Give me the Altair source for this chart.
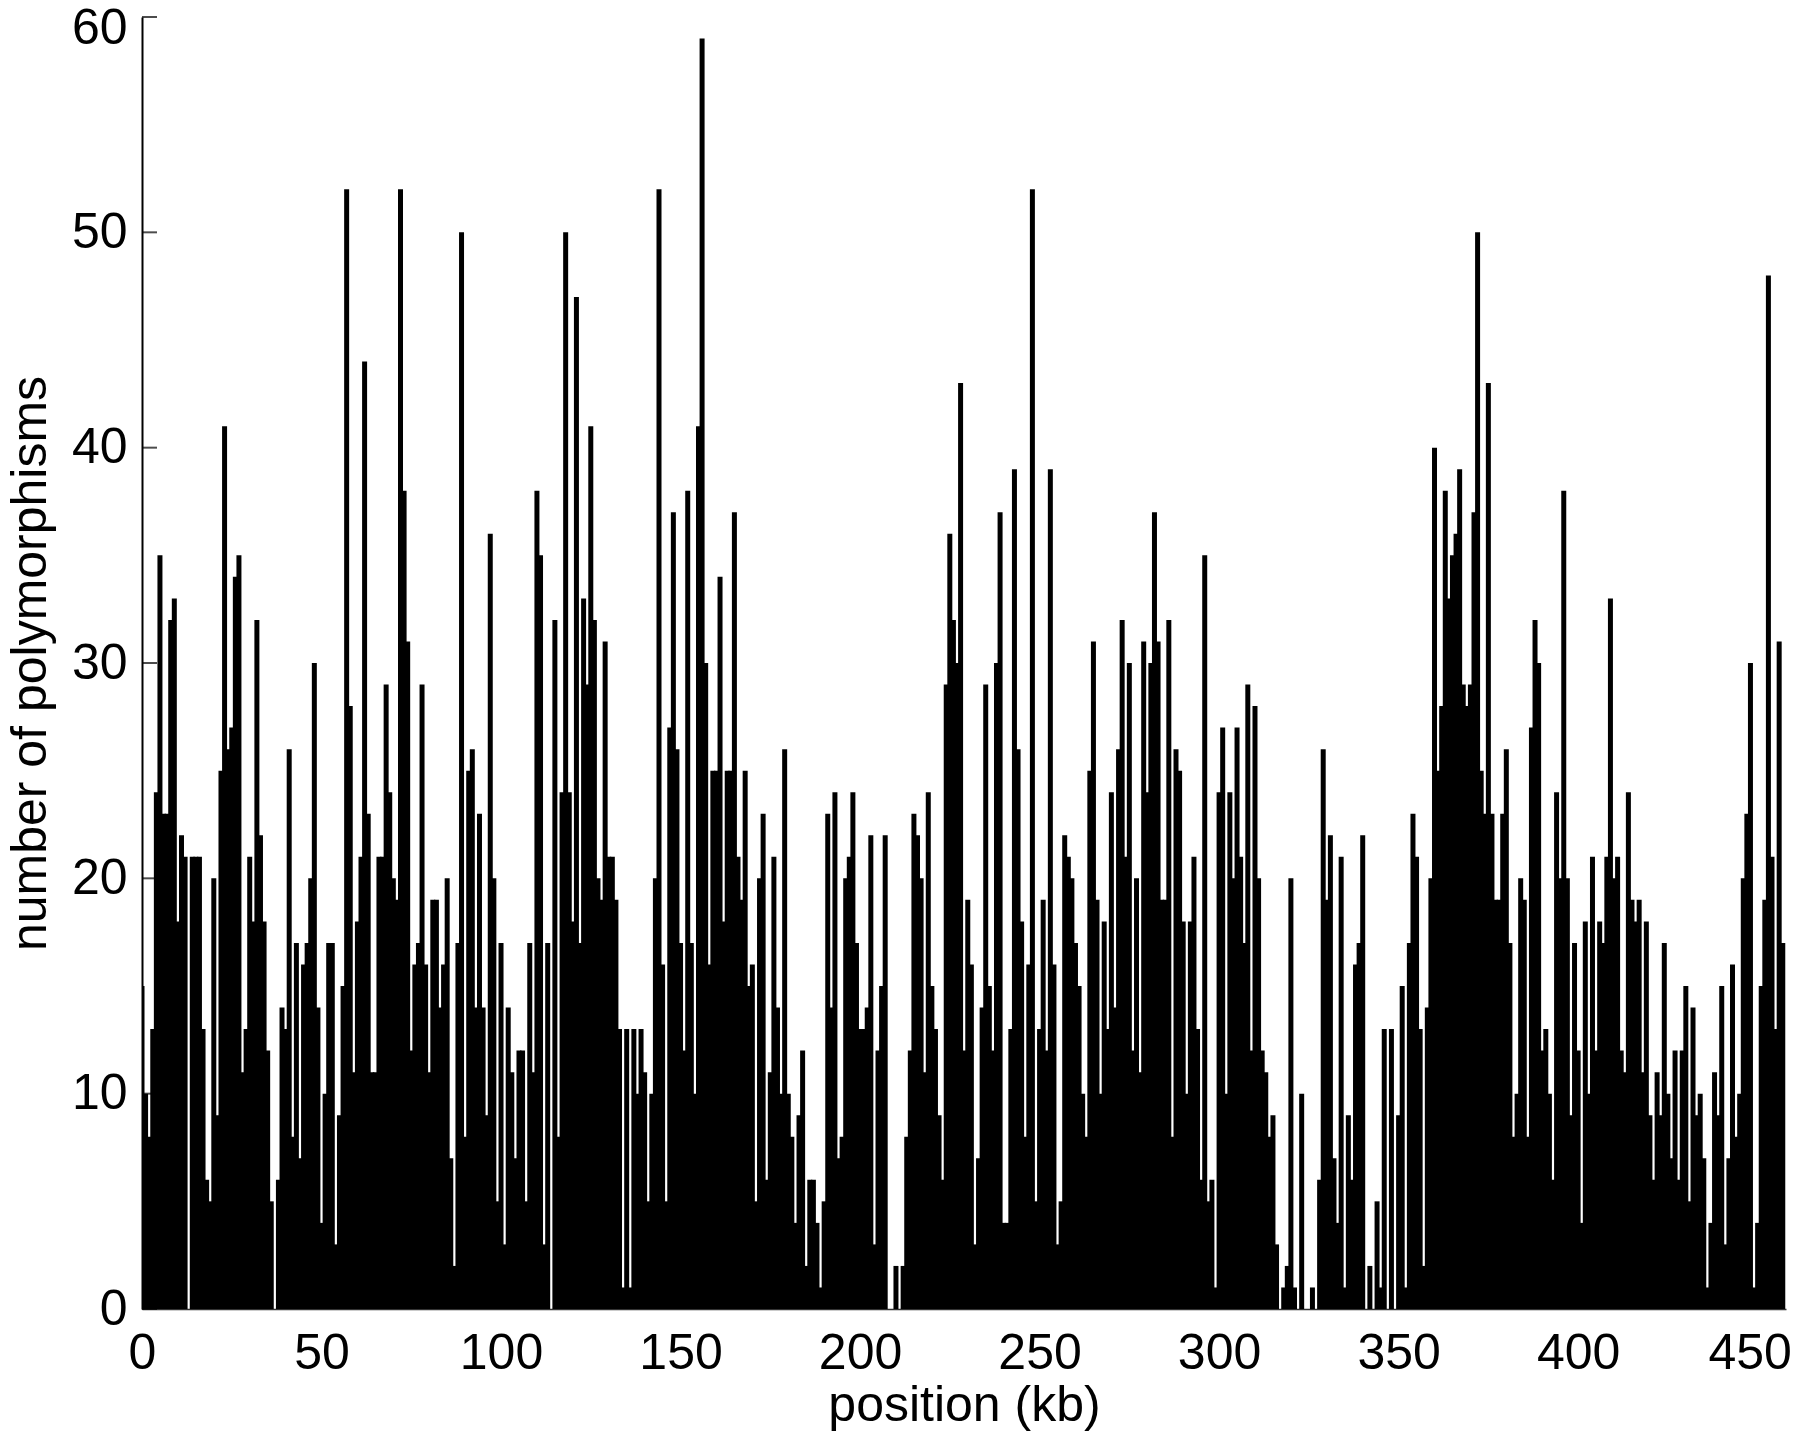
import altair as alt
import pandas as pd

values_0 = [15,10,8,13,24,35,23,23,32,33,18,22,21,0,21,21,21,13,6,5,20,9,25,41,26,27,34,35,11,13,21,18,32,22,18,12,5,0,6,14,13,26,8,17,7,16,17,20,30,14,4,10,17,17,3,9,15,52,28,11,18,21,44,23,11,11,21,21,29,24,20,19,52,38,31]
values_75 = [12,16,17,29,16,11,19,19,14,16,20,7,2,17,50,8,25,26,14,23,14,9,36,20,5,17,3,14,11,7,12,12,5,17,11,38,35,3,17,0,32,8,24,50,24,18,47,17,33,29,41,32,20,19,31,21,21,19,13,1,13,1,13,10,13,11,5,10,20,52,16,5,27,37,26,17,12,38,17,10,41]
values_156 = [59,30,16,25,25,34,18,25,25,37,21,19,25,15,16,5,20,23,6,11,21,14,10,26,10,8,4,9,12,2,6,6,4,1,5,23,14,24,7,8,20,21,24,17,13,13,14,22,3,12,15,22,0,0,2,0,2,8,12,23,22,20,11,24,15,13,9,6,29,36,32,30,43,12,19]
values_231 = [16,3,7,14,29,15,12,30,37,4,4,13,39,26,18,8,16,52,5,13,19,12,39,16,3,5,22,21,20,17,15,10,8,25,31,19,10,18,13,24,14,26,32,21,30,12,20,11,31,24,30,37,31,19,19,32,8,26,25,18,10,18,21,13,6,35,5,6,1,24,27,10,24,20,27,21,17,29,12,28]
values_311 = [20,12,11,8,9,3,0,1,2,20,1,0,10,0,0,1,0,6,26,19,22,7,4,21,1,9,6,16,17,22,0,2,0,5,1,13,0,13,0,9,15,1,17,23,21,13,2,14,20,40,25,28,38,33,35,36,39,29,28,29,37,50,25,23,43,23,19,19,23,26,17,8,10,20,19,8,27,32,30]
values_390 = [12,13,10,6,24,20,38,20,9,17,12,4,18,10,21,12,18,17,21,33,20,21,12,11,24,19,18,19,11,18,9,6,11,9,17,10,7,12,6,12,15,5,14,9,10,7,1,4,11,9,15,3,7,16,8,10,20,23,30,1,4,15,19,48,21,13,31,17]

counts = values_0 + values_75 + values_156 + values_231 + values_311 + values_390
positions = list(range(len(counts)))
y_ticks = [0, 10, 20, 30, 40, 50, 60]
x_ticks = [0, 50, 100, 150, 200, 250, 300, 350, 400, 450]

df = pd.DataFrame({"position": positions, "count": counts})
ticks = pd.DataFrame({"tick": y_ticks})

FONT = "Liberation Sans"
x_scale = alt.Scale(domain=[0, 457.9], nice=False, zero=False, padding=0)
y_scale = alt.Scale(domain=[0, 60], nice=False)

y_axis = alt.Axis(values=y_ticks, title="number of polymorphisms", grid=False, ticks=False,
                  labelFontSize=50, titleFontSize=50, labelFont=FONT, titleFont=FONT,
                  labelColor="#000000", titleColor="#000000", titleFontWeight="normal",
                  domainColor="#000000", domainWidth=2, labelPadding=15,
                  titleX=-87, labelOverlap=False,
                  labelOffset=alt.expr("datum.value == 60 ? 11 : 0"))

bars = alt.Chart(df).mark_bar(color="#000000", size=5, clip=True).encode(
    x=alt.X("position:Q", scale=x_scale,
            axis=alt.Axis(values=x_ticks, title="position (kb)", grid=False, ticks=False,
                          labelFontSize=50, titleFontSize=50, labelFont=FONT, titleFont=FONT,
                          labelColor="#000000", titleColor="#000000", titleFontWeight="normal",
                          domainColor="#333333", domainWidth=1.5, labelPadding=19,
                          titleY=71, labelOverlap=False, labelFlush=False,
                          labelOffset=alt.expr("datum.value == 450 ? -8 : 0"))),
    y=alt.Y("count:Q", scale=y_scale, axis=y_axis, title="number of polymorphisms"),
)

y_tick_marks = alt.Chart(ticks).mark_tick(color="#000000", thickness=2, size=15, orient="horizontal").encode(
    x=alt.value(7.5),
    y=alt.Y("tick:Q", scale=y_scale, axis=y_axis, title="number of polymorphisms"),
)

chart = (
    alt.layer(bars, y_tick_marks)
    .properties(width=1644, height=1292,
                padding={"left": 134, "top": 9, "right": 6, "bottom": 122},
                autosize=alt.AutoSizeParams(type="none"),
                background="#ffffff")
    .configure_view(stroke=None)
)
chart.save("out.html", embed_options={"renderer": "svg", "actions": False})
